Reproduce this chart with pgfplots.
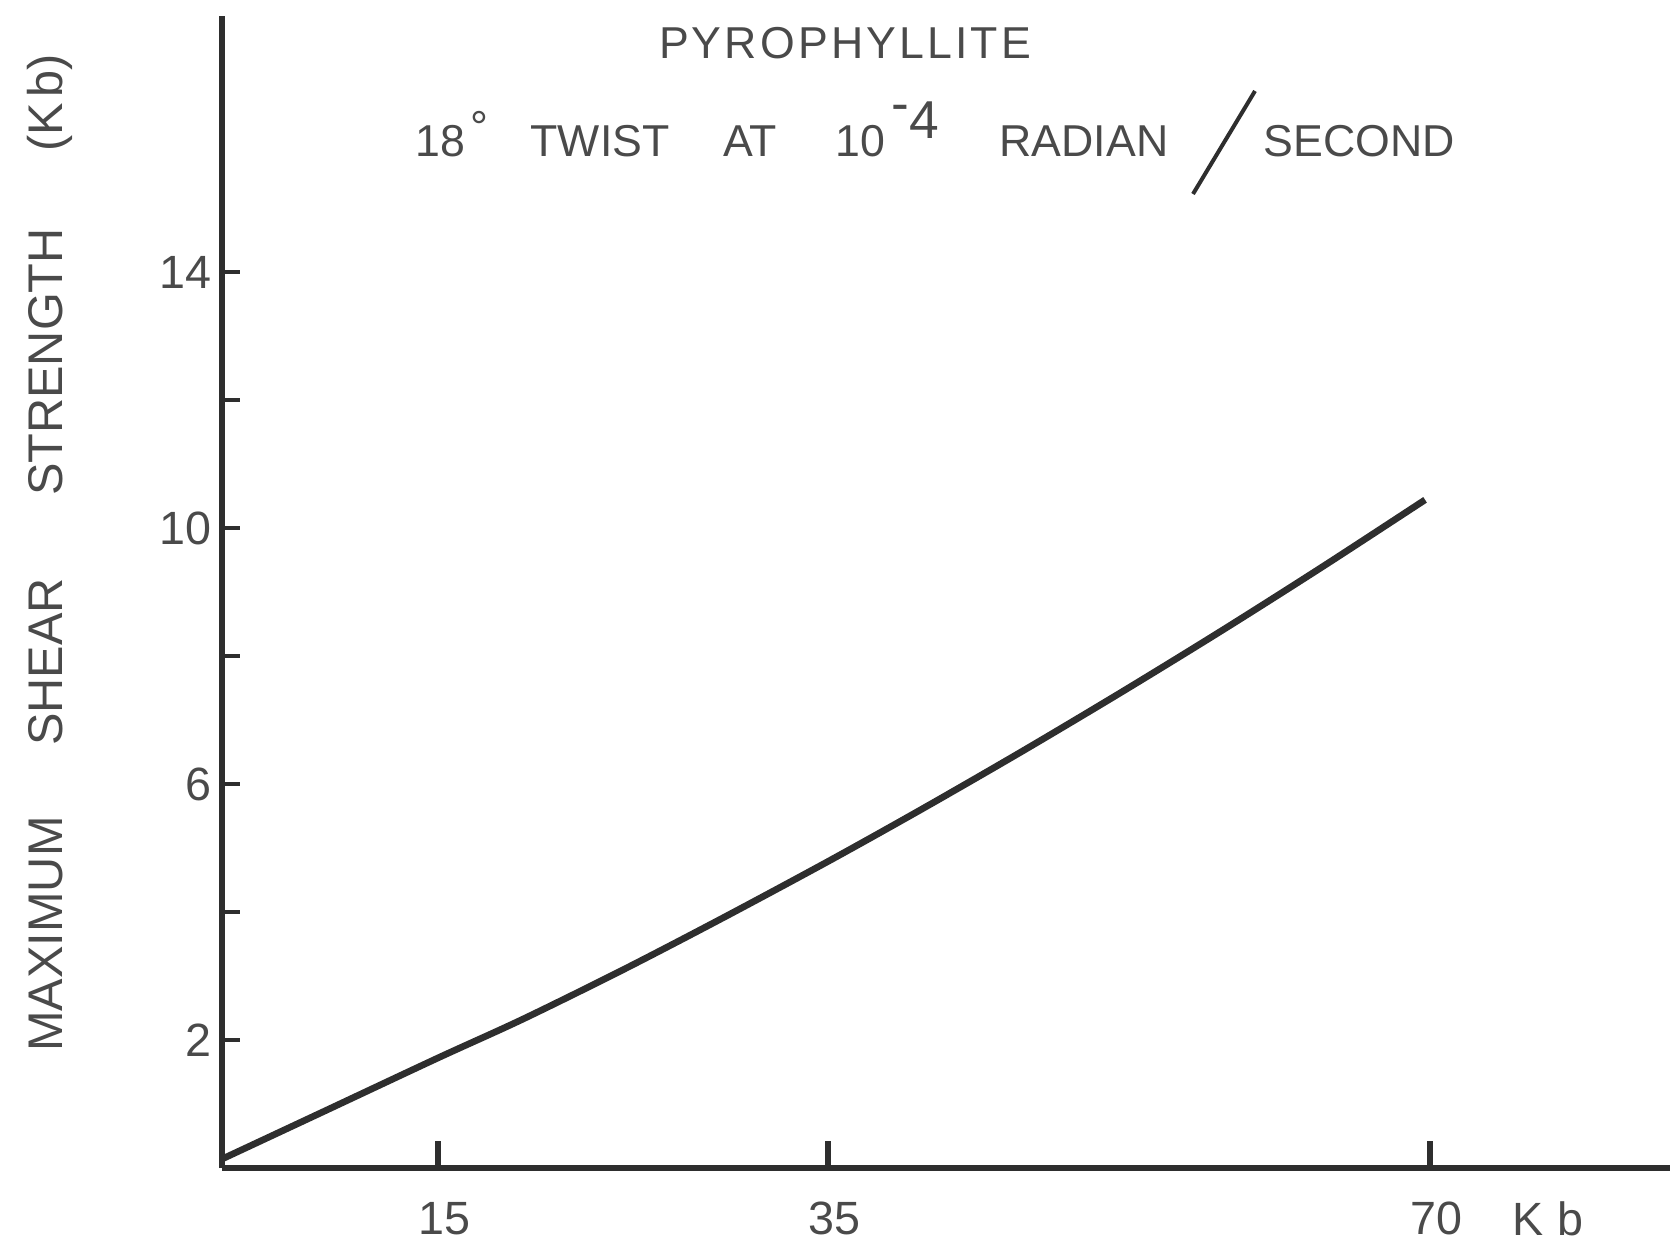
\documentclass[border=0pt]{standalone}
\usepackage{fontspec}
\setmainfont{Liberation Sans}
\newfontfamily\titlefont[LetterSpace=7]{Liberation Sans}
\usepackage{pgfplots}
\pgfplotsset{compat=1.18}
\definecolor{ink}{HTML}{2E2E2E}
\definecolor{txt}{HTML}{4A4A4A}

\begin{document}
\begin{tikzpicture}
\useasboundingbox (0,0) rectangle (501pt,372.9pt);
\begin{axis}[
  at={(66.6pt,22.5pt)}, anchor=south west,
  scale only axis, width=434.4pt, height=345.6pt,
  clip=false,
  axis x line=bottom, axis y line=left,
  axis line style={-, ink, line width=2pt},
  % hand drawn pressure scale: ticks are not evenly spaced
  x coord trafo/.code={\pgfmathparse{ifthenelse(#1<=15, 14.4*#1, ifthenelse(#1<=35, 216+19.5*(#1-15), 606+17.2*(#1-35)))}},
  x coord inv trafo/.code={\pgfmathparse{ifthenelse(#1<=216, #1/14.4, ifthenelse(#1<=606, 15+(#1-216)/19.5, 35+(#1-606)/17.2))}},
  xmin=0, xmax=83.95, ymin=0, ymax=18,
  enlargelimits=false,
  tick align=inside,
  major tick length=8pt, minor tick length=5.5pt,
  xtick={15,35,70}, xticklabels={15,35,70},
  minor x tick num=0,
  major x tick style={ink, line width=1.8pt},
  ytick={2,6,10,14}, yticklabels={2,6,10,14},
  minor ytick={2,4,6,8,10,12,14},
  major y tick style={draw=none},
  minor y tick style={ink, line width=1.2pt},
  /pgf/number format/assume math mode=true,
  ticklabel style={font=\fontsize{14}{16}\selectfont, text=txt},
  xticklabel style={anchor=base, yshift=-20pt, xshift=2pt},
  yticklabel style={anchor=east, inner sep=0pt, xshift=-3pt},
]
\addplot[ink, line width=2pt, smooth, tension=0.5] coordinates {
  (0,0.14) (6.94,0.87) (15,1.72) (19.31,2.32) (24.44,3.09) (29.56,3.90)
  (35,4.79) (40.47,5.61) (46.28,6.51) (52.09,7.44) (57.91,8.40)
  (63.72,9.39) (69.71,10.44)
};
\end{axis}
\begin{scope}[x=0.3pt, y=0.3pt, every node/.style={text=txt, inner sep=0pt, font=\fontsize{13.4}{16}\selectfont}]
  \node[anchor=base, font=\titlefont\fontsize{13.4}{16}\selectfont] at (845,1184.5) {PYROPHYLLITE};
  \node[anchor=base west] at (415,1086.5) {18\hspace{1.5pt}\raisebox{4.3pt}{°}};
  \node[anchor=base] at (600,1086.5) {TWIST};
  \node[anchor=base] at (750,1086.5) {AT};
  \node[anchor=base] at (860,1086.5) {10};
  \node[anchor=base, font=\fontsize{16}{18}\selectfont] at (915,1104.5) {\raisebox{5pt}{-}4};
  \node[anchor=base] at (1084,1086.5) {RADIAN};
  \draw[ink, line width=1.2pt] (1193,1049) -- (1255,1152);
  \node[anchor=base] at (1359,1086.5) {SECOND};
  \node[rotate=90, anchor=base, font=\fontsize{14.6}{17}\selectfont] at (62,309) {MAXIMUM};
  \node[rotate=90, anchor=base, font=\fontsize{14.6}{17}\selectfont] at (62,581) {SHEAR};
  \node[rotate=90, anchor=base, font=\fontsize{14.6}{17}\selectfont] at (62,881) {STRENGTH};
  \node[rotate=90, anchor=base, font=\fontsize{14.6}{17}\selectfont] at (62,1140) {(K\hspace{1.5pt}b)};
  \node[anchor=base, font=\fontsize{14}{16}\selectfont] at (1548,7.5) {K\hspace{4pt}b};
\end{scope}
\end{tikzpicture}
\end{document}
